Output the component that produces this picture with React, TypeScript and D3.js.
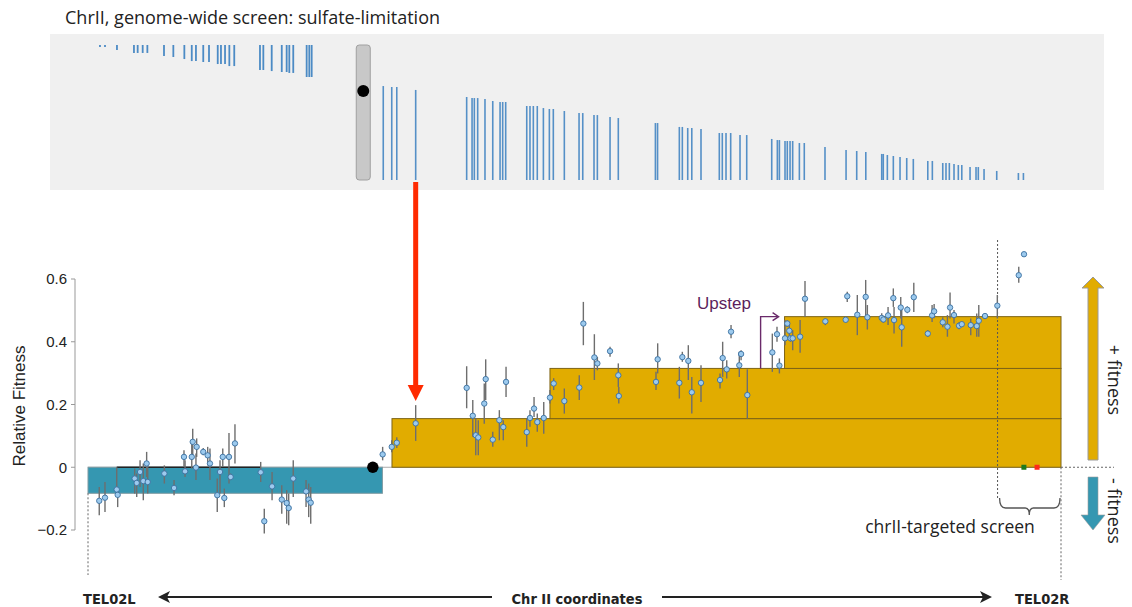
import React from "react";
import * as d3 from "d3";

// chromosome II, kb
const CHR_LENGTH_KB = 813;
const CENTROMERE_KB = 238;
const SCREEN_CENTROMERE_KB = 230;
const HIGHLIGHT_GENE_KB = 273.8;

const yTicks = [-0.2, 0, 0.2, 0.4, 0.6];

// genome-wide screen: [position kb, track score 0-100]
const leftArmHits: [number, number][] = [
  [10, 1.5], [14.2, 1.5], [24.2, 3.7], [38.4, 5.9], [41.5, 5.9], [45.7, 5.9], [49.6, 5.9],
  [63.5, 8.1], [71.3, 8.9], [80.5, 10.4], [86.7, 11.9], [90.2, 11.9], [96.3, 12.6], [101.1, 12.6],
  [108.4, 14.1], [111.1, 14.1], [114.5, 14.1], [118.1, 15.6], [122.2, 15.6], [143.7, 18.5],
  [146.5, 18.5], [153.5, 19.3], [161.9, 20], [166, 20], [168.2, 20.7], [171.5, 20.7],
  [182.7, 23.7], [184.9, 23.7], [186.9, 23.7],
];
const rightArmHits: [number, number][] = [
  [246.7, 69.6], [253.8, 68.9], [258, 68.9], [273.8, 66.7], [316.4, 61.5], [320.9, 60.7],
  [322.8, 60.7], [325.6, 60.7], [331.7, 60], [338.2, 58.5], [344.3, 57.8], [346.5, 57.8],
  [349, 57.8], [366.6, 54.8], [369.3, 54.8], [372.1, 54.8], [375.4, 54.8], [380.5, 53.3],
  [385.5, 52.6], [388.8, 52.6], [398, 51.1], [410.3, 49.6], [413.4, 49.6], [422.8, 48.1],
  [425.6, 48.1], [436.2, 46.7], [443.1, 45.9], [474.1, 42.2], [475.9, 42.2], [494.1, 39.3],
  [496.6, 39.3], [501.1, 38.5], [504.5, 38.5], [512.2, 37.8], [527.5, 34.8], [530, 34.8],
  [533.1, 34.8], [537, 34.8], [544.8, 33.3], [550.4, 33.3], [571.3, 30.4], [576, 29.6],
  [577.7, 29.6], [582.4, 28.9], [584.3, 28.9], [586.6, 28.9], [588.8, 28.9], [594.4, 27.4],
  [598.5, 27.4], [615.8, 24.4], [633.4, 22.2], [642.3, 21.5], [649.9, 20.7], [663.2, 19.3],
  [664.5, 19.3], [667.9, 18.5], [672.9, 17.8], [678.5, 17], [684.1, 16.3], [689.6, 15.6],
  [701.7, 14.1], [705.5, 14.1], [714.2, 12.6], [716.9, 12.6], [719.7, 12.6], [723.6, 11.9],
  [727.2, 11.1], [730.1, 11.1], [737, 9.6], [742, 9.6], [743.9, 9.6], [748.7, 8.1],
  [759.3, 6.7], [777.4, 5.2], [781.6, 5.2],
];

// targeted screen: [position kb, relative fitness, lower, upper]
const fitnessPoints: [number, number, number, number][] = [
  [9.4, -0.107, -0.153, -0.063], [14.2, -0.097, -0.143, -0.047], [24, -0.071, -0.071, 0],
  [24.8, -0.088, -0.127, -0.073], [39, -0.036, -0.084, -0.004], [40.7, -0.05, -0.095, -0.02],
  [43.5, -0.015, -0.063, 0.022], [46.2, -0.044, -0.105, 0.012], [49, 0.012, -0.031, 0.049],
  [49.9, -0.047, -0.084, 0.001], [63.8, -0.02, -0.052, 0.006], [71.9, -0.066, -0.089, -0.041],
  [80.2, 0.033, 0.001, 0.054], [81.1, -0.013, -0.031, 0.022], [86.7, 0.033, -0.004, 0.081],
  [87.5, 0.081, 0.033, 0.123], [90.2, -0.001, -0.041, 0.044], [90.8, 0.065, 0.033, 0.092],
  [96.3, 0.049, 0.038, 0.061], [100, 0.038, 0.006, 0.065], [101.9, 0.012, -0.041, 0.06],
  [108, -0.089, -0.143, -0.036], [110.3, -0.015, -0.084, 0.022], [112.6, 0.033, 0.001, 0.06],
  [113.9, -0.098, -0.127, -0.068], [117.8, 0.033, -0.052, 0.109], [119.2, -0.031, -0.041, -0.02],
  [122.8, 0.076, 0.012, 0.137], [144.3, -0.016, -0.047, 0.017], [147.3, -0.172, -0.211, -0.132],
  [153.8, -0.061, -0.105, -0.015], [161.9, -0.103, -0.148, -0.057], [166, -0.114, -0.18, -0.073],
  [167.7, -0.13, -0.185, -0.084], [171.5, -0.036, -0.095, 0.022], [182.2, -0.077, -0.127, -0.041],
  [184.4, -0.103, -0.159, -0.052], [186.1, -0.113, -0.18, -0.063],
  [246.2, 0.041, 0.022, 0.065], [253.8, 0.065, 0.048, 0.086], [258, 0.078, 0.061, 0.096],
  [273.8, 0.14, 0.084, 0.198], [316.4, 0.253, 0.188, 0.322], [321.5, 0.164, 0.097, 0.214],
  [324, 0.102, 0.038, 0.155], [326.1, 0.095, 0.038, 0.15], [331.1, 0.203, 0.139, 0.267],
  [332.3, 0.281, 0.214, 0.344], [338.2, 0.088, 0.065, 0.113], [343.7, 0.15, 0.086, 0.182],
  [347, 0.128, 0.086, 0.15], [349.3, 0.272, 0.224, 0.32], [366.6, 0.112, 0.065, 0.155],
  [369.3, 0.157, 0.129, 0.182], [372.7, 0.187, 0.16, 0.224], [375.4, 0.144, 0.113, 0.171],
  [380.8, 0.157, 0.107, 0.208], [386, 0.222, 0.203, 0.246], [389.1, 0.267, 0.246, 0.284],
  [398, 0.211, 0.171, 0.251], [410.5, 0.254, 0.214, 0.293], [413.9, 0.458, 0.389, 0.527],
  [423.1, 0.35, 0.278, 0.424], [425.6, 0.331, 0.309, 0.352], [436.2, 0.37, 0.352, 0.384],
  [443.1, 0.293, 0.256, 0.331], [443.5, 0.227, 0.203, 0.256], [474.6, 0.272, 0.246, 0.304],
  [476, 0.344, 0.299, 0.395], [494.1, 0.269, 0.219, 0.32], [496.6, 0.351, 0.336, 0.368],
  [501.6, 0.339, 0.278, 0.389], [504.5, 0.239, 0.171, 0.288], [512.2, 0.269, 0.208, 0.325],
  [528.1, 0.278, 0.251, 0.299], [530.3, 0.348, 0.288, 0.4], [533.7, 0.312, 0.283, 0.341],
  [537.3, 0.432, 0.411, 0.453], [544.2, 0.325, 0.288, 0.368], [545.7, 0.361, 0.341, 0.373],
  [550.9, 0.23, 0.155, 0.312], [571.8, 0.366, 0.304, 0.426], [575.7, 0.424, 0.4, 0.448],
  [577.7, 0.324, 0.299, 0.347], [582.4, 0.411, 0.389, 0.469], [584.3, 0.458, 0.447, 0.469],
  [586, 0.435, 0.405, 0.463], [587, 0.411, 0.4, 0.42], [588.8, 0.411, 0.373, 0.437],
  [595, 0.416, 0.365, 0.469], [599.1, 0.537, 0.479, 0.594], [616.1, 0.465, 0.453, 0.474],
  [633.1, 0.47, 0.462, 0.478], [634.4, 0.545, 0.527, 0.559], [642.8, 0.486, 0.421, 0.549],
  [649.8, 0.543, 0.479, 0.597], [651.2, 0.478, 0.439, 0.517], [663.2, 0.476, 0.463, 0.491],
  [664.6, 0.471, 0.46, 0.482], [668.5, 0.484, 0.453, 0.511], [672.9, 0.539, 0.511, 0.57],
  [673.5, 0.469, 0.426, 0.511], [679.1, 0.509, 0.474, 0.543], [679.9, 0.446, 0.384, 0.511],
  [684.6, 0.502, 0.491, 0.513], [690, 0.542, 0.495, 0.588], [701.7, 0.426, 0.415, 0.437],
  [705.3, 0.484, 0.463, 0.517], [707, 0.497, 0.475, 0.52], [714.2, 0.462, 0.446, 0.478],
  [718.1, 0.448, 0.416, 0.485], [720.3, 0.509, 0.474, 0.557], [723.6, 0.485, 0.458, 0.501],
  [727.8, 0.451, 0.44, 0.462], [730.1, 0.456, 0.448, 0.464], [737.6, 0.453, 0.421, 0.474],
  [742.6, 0.45, 0.416, 0.49], [744.3, 0.467, 0.416, 0.517], [749.5, 0.482, 0.474, 0.49],
  [759.8, 0.515, 0.474, 0.549], [777.7, 0.612, 0.588, 0.639], [782.1, 0.679, 0.672, 0.686],
];

// copy-number segments
const lossStart = 0;
const lossEnd = 246;
const lossLevel = -0.083;
const lossCallStart = 24;
const lossCallEnd = 144;
const stepStarts = [254, 386, 582];
const stepLevels = [0.155, 0.315, 0.48];
const upstepKb = 562;
const targetedStartKb = 760;
const controlKb = [782, 793];

const x = d3.scaleLinear().domain([0, CHR_LENGTH_KB]).range([88, 1061]);
const y = d3.scaleLinear().domain([-0.2, 0.6]).range([530, 279]);
const track = d3.scaleLinear().domain([0, 100]).range([0, 135]);
const trackTop = 45;
const trackBottom = 180;

const GOLD = "#e1ac00";
const TEAL = "#3597b1";
const sans = "'Liberation Sans', Arial, sans-serif";
const soft = "'Open Sans', sans-serif";
const narrow = "'DejaVu Sans Condensed', 'DejaVu Sans', sans-serif";

export default function App() {
  const x0 = x(0);
  const x1 = x(CHR_LENGTH_KB);
  const y0 = y(0);
  const arrowX = x(HIGHLIGHT_GENE_KB);
  const upX = x(upstepKb);
  const dotX = x(targetedStartKb);
  const bracketMid = (dotX + x1) / 2;
  return (
    <svg
      width={1132}
      height={607}
      style={{ position: "absolute", left: 0, top: 0, background: "#fff" }}
    >
      <text x={65} y={24} fontFamily={soft} fontSize={18} fill="#222">
        ChrII, genome-wide screen: sulfate-limitation
      </text>
      <rect x={50} y={34} width={1054} height={156} fill="#f0f0f0" />
      {leftArmHits.map(([kb, s], i) => (
        <line key={"l" + i} x1={x(kb)} x2={x(kb)} y1={trackTop} y2={trackTop + track(s)}
          stroke="#3a7fc0" strokeWidth={1.8} strokeOpacity={0.9} />
      ))}
      {rightArmHits.map(([kb, s], i) => (
        <line key={"r" + i} x1={x(kb)} x2={x(kb)} y1={trackBottom - track(s)} y2={trackBottom}
          stroke="#3a7fc0" strokeWidth={1.6} strokeOpacity={0.85} />
      ))}
      <rect x={x(SCREEN_CENTROMERE_KB) - 7} y={trackTop} width={14} height={trackBottom - trackTop}
        rx={3} fill="#c8c8c8" stroke="#a0a0a0" />
      <circle cx={x(SCREEN_CENTROMERE_KB)} cy={91} r={6} fill="#000" />

      {/* red arrow linking the two screens */}
      <rect x={arrowX - 2.5} y={182} width={5} height={203} fill="#ff2a00" />
      <polygon points={`${arrowX - 8},385 ${arrowX + 8},385 ${arrowX},401`} fill="#ff2a00" />

      {/* y axis */}
      <line x1={75} x2={75} y1={y(0.6)} y2={y(-0.2)} stroke="#999" />
      {yTicks.map((t) => (
        <g key={t}>
          <line x1={71} x2={75} y1={y(t)} y2={y(t)} stroke="#999" />
          <text x={67} y={y(t)} dy="0.35em" textAnchor="end" fontFamily={sans} fontSize={15} fill="#222">
            {t === 0 ? "0" : d3.format(".1f")(t)}
          </text>
        </g>
      ))}
      <text transform={`translate(25,406) rotate(-90)`} textAnchor="middle" fontFamily={sans}
        fontSize={17} fill="#222">Relative Fitness</text>

      {/* segments */}
      <line x1={x0} x2={x1} y1={y0} y2={y0} stroke="#aaa" />
      <rect x={x(lossStart)} y={y0} width={x(lossEnd) - x(lossStart)} height={y(lossLevel) - y0}
        fill={TEAL} stroke="#7f9aa2" strokeWidth={1} />
      <line x1={x(lossCallStart)} x2={x(lossCallEnd)} y1={y0} y2={y0} stroke="#222" strokeWidth={1.3} />
      {stepStarts.map((s, i) => (
        <rect key={"s" + i} x={x(s)} y={y(stepLevels[i])} width={x1 - x(s)}
          height={y(i === 0 ? 0 : stepLevels[i - 1]) - y(stepLevels[i])}
          fill={GOLD} stroke="#7d6416" strokeWidth={1} />
      ))}

      {/* dotted guides */}
      <line x1={x0} x2={x0} y1={y(lossLevel)} y2={575} stroke="#666" strokeDasharray="2,2" />
      <line x1={x1} x2={x1} y1={y0} y2={580} stroke="#666" strokeDasharray="2,2" />
      <line x1={x1} x2={1114} y1={y0} y2={y0} stroke="#666" strokeDasharray="2,2" />
      <line x1={dotX} x2={dotX} y1={240} y2={498} stroke="#555" strokeDasharray="2,2" />

      {/* error bars and points */}
      {fitnessPoints.map(([kb, , lo, hi], i) => (
        <line key={"e" + i} x1={x(kb)} x2={x(kb)} y1={y(lo)} y2={y(hi)} stroke="#6e6e6e" strokeWidth={1.4} />
      ))}
      {fitnessPoints.map(([kb, f], i) => (
        <circle key={"p" + i} cx={x(kb)} cy={y(f)} r={2.7} fill="#9ccaee" stroke="#3b6f9f" strokeWidth={0.9} />
      ))}
      <circle cx={x(CENTROMERE_KB)} cy={y0} r={5.7} fill="#000" />
      <rect x={x(controlKb[0]) - 2.5} y={y0 - 2.5} width={5} height={5} fill="#1d7a1d" />
      <rect x={x(controlKb[1]) - 2.5} y={y0 - 2.5} width={5} height={5} fill="#ff2a1a" />

      {/* upstep annotation */}
      <text x={697} y={309} fontFamily={sans} fontSize={17} fill="#5c1f5c">Upstep</text>
      <path d={`M${upX},${y(stepLevels[1])} V${y(stepLevels[2])} H${upX + 17}`} fill="none"
        stroke="#6a2a6a" strokeWidth={1.4} />
      <path d={`M${upX + 12},${y(stepLevels[2]) - 4} L${upX + 18},${y(stepLevels[2])} L${upX + 12},${y(stepLevels[2]) + 4}`}
        fill="none" stroke="#6a2a6a" strokeWidth={1.4} />

      {/* targeted-screen bracket */}
      <path d={`M${dotX + 2},498 Q${dotX + 2},508 ${dotX + 8},508 H${bracketMid - 4} Q${bracketMid},508 ${bracketMid},515 Q${bracketMid},508 ${bracketMid + 4},508 H${x1 - 7} Q${x1 - 1},508 ${x1 - 1},498`}
        fill="none" stroke="#555" strokeWidth={1.3} />
      <text x={950} y={533} textAnchor="middle" fontFamily={soft} fontSize={17.5} fill="#222">
        chrII-targeted screen
      </text>

      {/* fitness direction arrows */}
      <polygon points="1088,460 1098,460 1098,288 1104,288 1093,277 1082,288 1088,288"
        fill={GOLD} stroke="#9a9a9a" strokeWidth={1} />
      <polygon points="1088,477 1098,477 1098,515 1105,515 1093,530 1081,515 1088,515"
        fill={TEAL} stroke="#9a9a9a" strokeWidth={0.6} />
      <text transform="translate(1114,380) rotate(90)" textAnchor="middle" dy="0.35em"
        fontFamily={soft} fontSize={18} fill="#222">+ fitness</text>
      <text transform="translate(1114,511) rotate(90)" textAnchor="middle" dy="0.35em"
        fontFamily={soft} fontSize={18} fill="#222">- fitness</text>

      {/* chromosome coordinate axis */}
      <text x={83} y={604} fontFamily={narrow} fontWeight="bold" fontSize={14.5} fill="#222">TEL02L</text>
      <text x={577} y={604} textAnchor="middle" fontFamily={narrow} fontWeight="bold" fontSize={14.5}
        fill="#222">Chr II coordinates</text>
      <text x={1015} y={604} fontFamily={narrow} fontWeight="bold" fontSize={14.5} fill="#222">TEL02R</text>
      <line x1={166} x2={492} y1={597} y2={597} stroke="#222" strokeWidth={2} />
      <polygon points="158,597 170,591 167,597 170,603" fill="#222" />
      <line x1={662} x2={984} y1={597} y2={597} stroke="#222" strokeWidth={2} />
      <polygon points="992,597 980,591 983,597 980,603" fill="#222" />
    </svg>
  );
}
